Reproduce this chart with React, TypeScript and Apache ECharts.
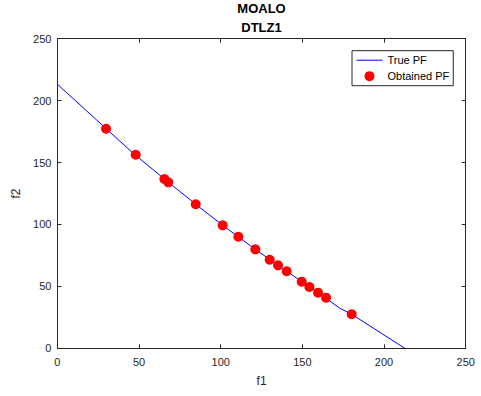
import React, { useEffect, useRef } from "react";
import * as echarts from "echarts";

const titleLines = ["MOALO", "DTLZ1"];
const xAxisName = "f1";
const yAxisName = "f2";
const axisTicks = [0, 50, 100, 150, 200, 250];

// True Pareto front
const trueF1 = [0, 29.8, 46.5, 65.5, 84.7, 101.2, 121.2, 140.4, 159.6, 173.0, 180.2, 212.7];
const trueF2 = [213.2, 177.4, 157.4, 136.7, 116.3, 99.3, 79.9, 62.2, 44.9, 32.3, 27.5, 0];

// Obtained Pareto front points
const obtF1 = [29.8, 47.95, 65.5, 67.9, 84.7, 101.2, 110.8, 121.2, 130.0, 135.1, 140.4, 149.6, 154.3, 159.6, 164.5, 180.2];
const obtF2 = [177.3, 156.3, 136.7, 134.0, 116.3, 99.3, 90.1, 79.9, 71.5, 67.0, 62.2, 53.8, 49.5, 44.9, 40.9, 27.5];

const seriesNames = ["True PF", "Obtained PF"];

export default function App() {
  const ref = useRef<HTMLDivElement>(null);
  useEffect(() => {
    document.body.style.margin = "0";
    const chart = echarts.init(ref.current!, null, { renderer: "svg" });
    const axisColor = "#262626";
    const font = "'Liberation Sans', Arial, Helvetica, sans-serif";
    const baseAxis = {
      min: axisTicks[0],
      max: axisTicks[axisTicks.length - 1],
      interval: axisTicks[1] - axisTicks[0],
      splitLine: { show: false },
      axisLine: { show: true, onZero: false, lineStyle: { color: axisColor, width: 1 } },
      axisTick: { show: true, inside: true, length: 4, lineStyle: { color: axisColor } },
    };
    chart.setOption({
      animation: false,
      backgroundColor: "#ffffff",
      textStyle: { fontFamily: font },
      title: {
        text: titleLines.join("\n"),
        left: 261.5,
        top: -1,
        padding: 0,
        textAlign: "center",
        textStyle: { fontSize: 13, fontWeight: "bold", color: "#000", lineHeight: 19, fontFamily: font },
      },
      grid: { left: 57.4, right: 15.3, top: 38.7, bottom: 47.7, containLabel: false },
      legend: {
        orient: "vertical",
        left: 352,
        top: 50.7,
        padding: [3, 4, 3, 4],
        itemWidth: 26,
        itemHeight: 10,
        itemGap: 3,
        backgroundColor: "#fff",
        borderColor: axisColor,
        borderWidth: 1,
        borderRadius: 0,
        lineStyle: { width: 1 },
        textStyle: { fontSize: 11, color: "#000", fontFamily: font, lineHeight: 13 },
        data: [
          { name: seriesNames[0], itemStyle: { opacity: 0 }, lineStyle: { width: 1 } },
          { name: seriesNames[1], icon: "circle" },
        ],
      },
      xAxis: [
        {
          ...baseAxis,
          type: "value",
          position: "bottom",
          name: xAxisName,
          nameLocation: "middle",
          nameGap: 27,
          nameTextStyle: { fontSize: 12, color: axisColor, fontFamily: font },
          axisLabel: { fontSize: 11, color: axisColor, margin: 8, fontFamily: font },
        },
        {
          ...baseAxis,
          type: "value",
          position: "top",
          axisLabel: { show: false },
        },
      ],
      yAxis: [
        {
          ...baseAxis,
          type: "value",
          position: "left",
          name: yAxisName,
          nameLocation: "middle",
          nameGap: 30,
          nameTextStyle: { fontSize: 12, color: axisColor, fontFamily: font },
          axisLabel: { fontSize: 11, color: axisColor, margin: 6, fontFamily: font },
        },
        {
          ...baseAxis,
          type: "value",
          position: "right",
          axisLabel: { show: false },
        },
      ],
      series: [
        {
          name: seriesNames[0],
          type: "line",
          xAxisIndex: 0,
          yAxisIndex: 0,
          symbol: "none",
          lineStyle: { color: "#0000ff", width: 1 },
          itemStyle: { color: "#0000ff" },
          data: trueF1.map((x, i) => [x, trueF2[i]]),
          z: 2,
        },
        {
          name: seriesNames[1],
          type: "scatter",
          xAxisIndex: 0,
          yAxisIndex: 0,
          symbol: "circle",
          symbolSize: 10,
          itemStyle: { color: "#ff0000", opacity: 1 },
          data: obtF1.map((x, i) => [x, obtF2[i]]),
          z: 3,
        },
      ],
    });
    return () => chart.dispose();
  }, []);
  return <div ref={ref} style={{ width: 481, height: 396 }} />;
}
